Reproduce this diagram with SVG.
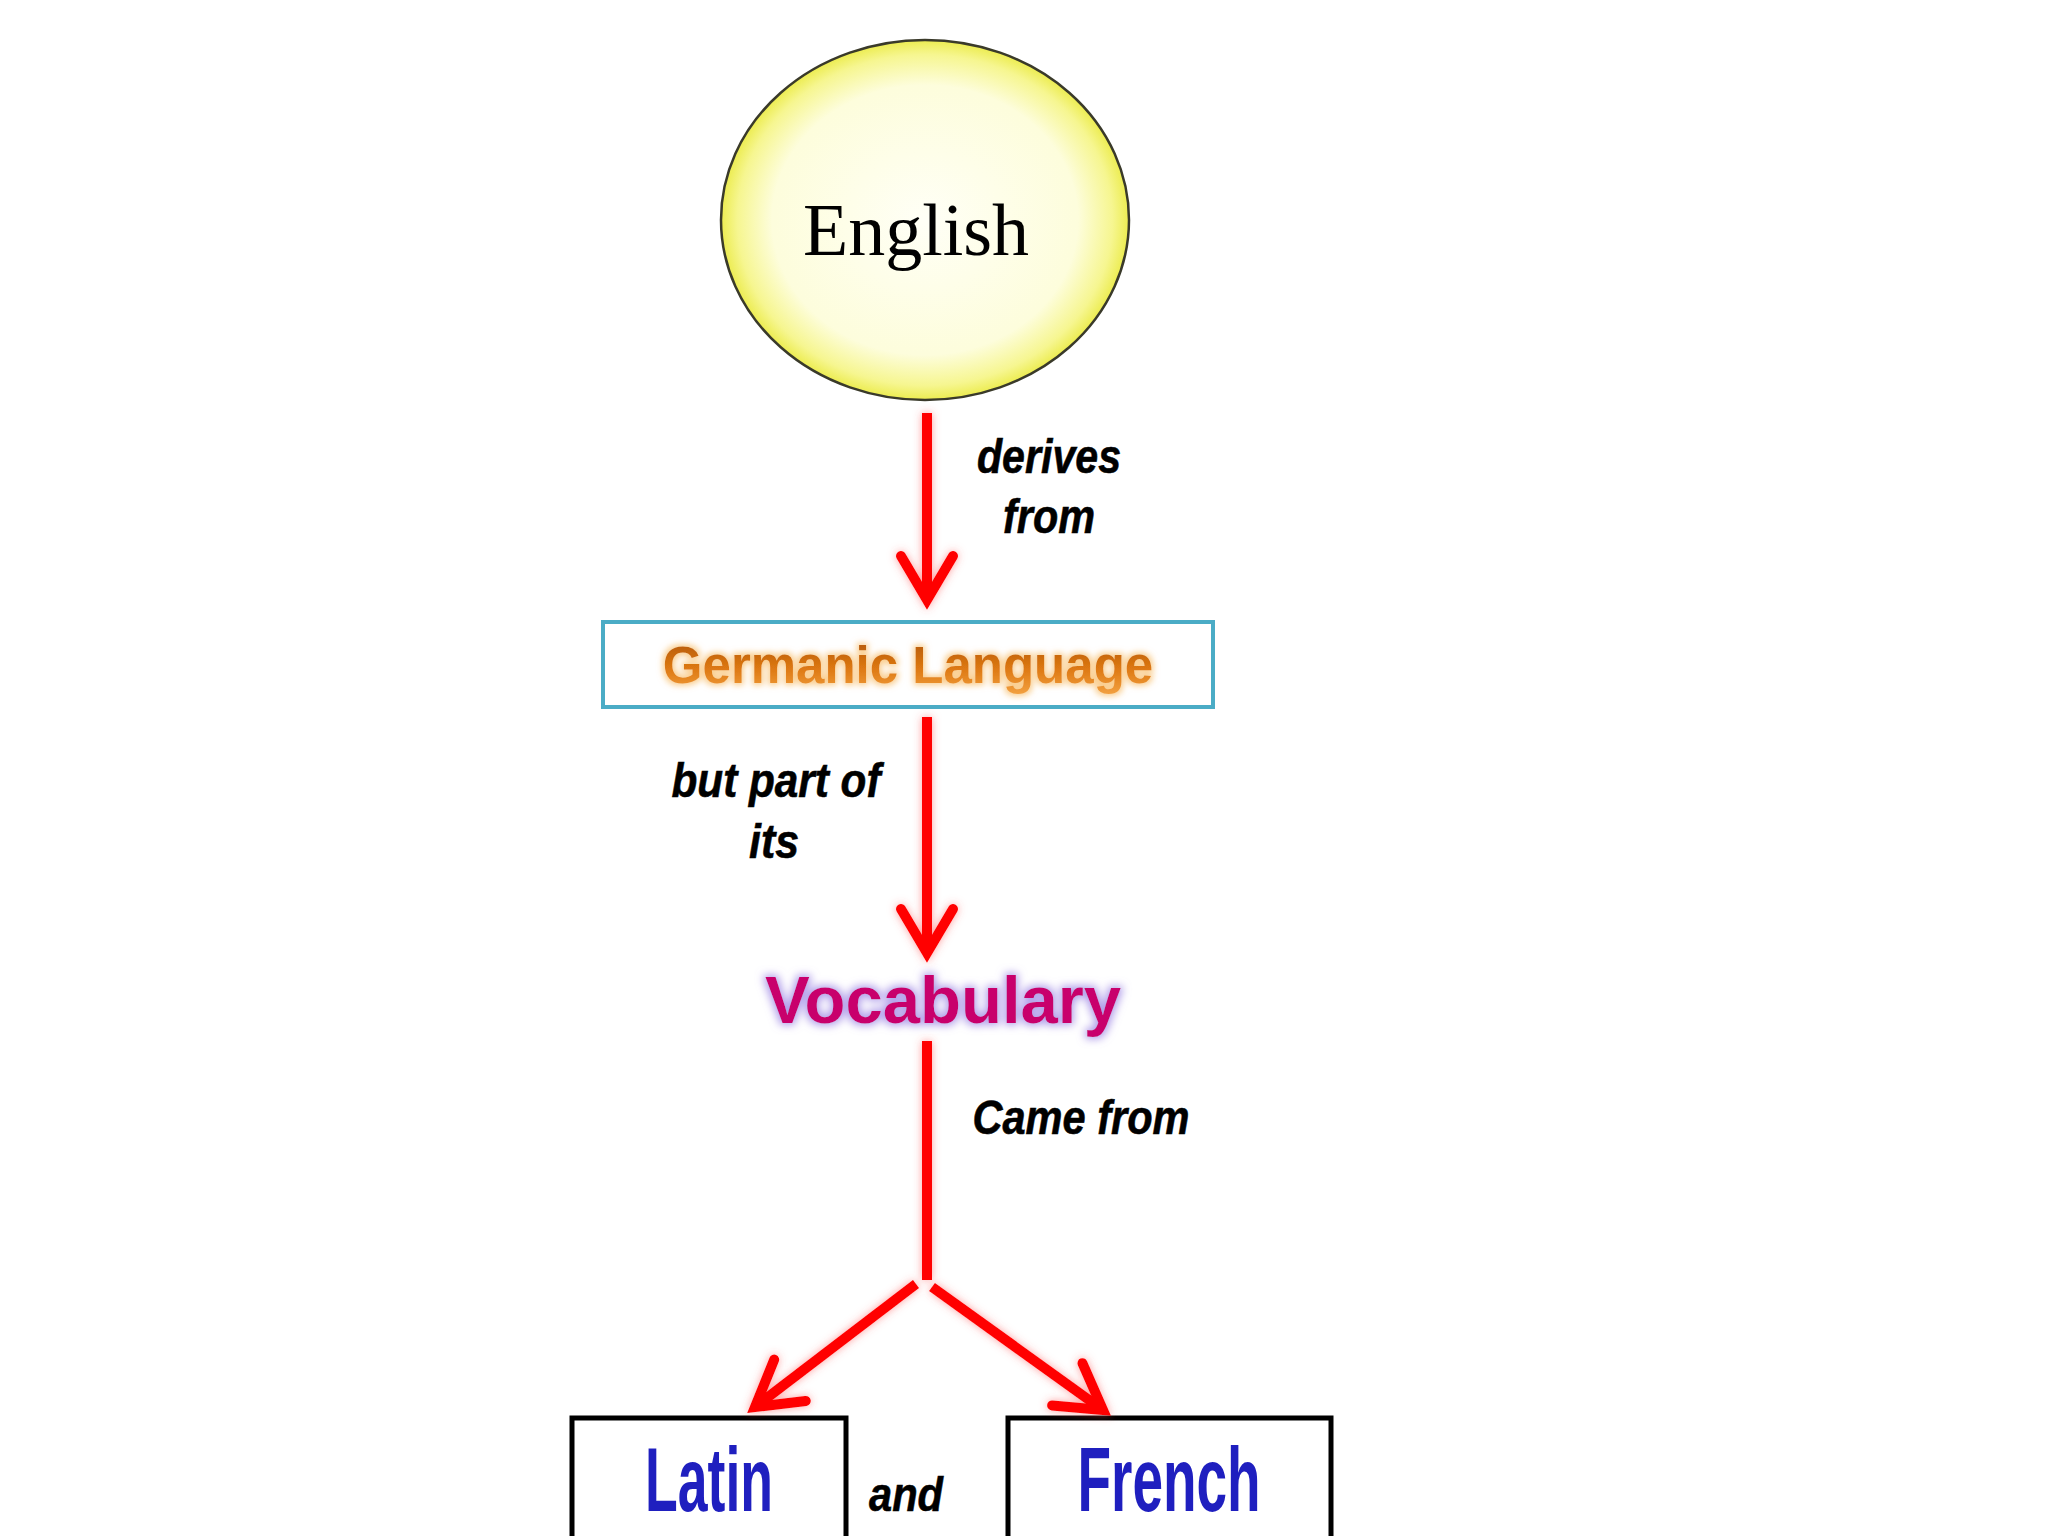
<svg xmlns="http://www.w3.org/2000/svg" width="2048" height="1536" viewBox="0 0 2048 1536">
<defs>
  <radialGradient id="gEll" cx="50%" cy="50%" r="50%">
    <stop offset="0" stop-color="#FFFFF6"/>
    <stop offset="0.75" stop-color="#FDFDDC"/>
    <stop offset="0.92" stop-color="#F6F690"/>
    <stop offset="1" stop-color="#ECEC50"/>
  </radialGradient>
  <linearGradient id="gOrange" x1="0" y1="0" x2="0" y2="1">
    <stop offset="0" stop-color="#B0560A"/>
    <stop offset="0.55" stop-color="#DD7812"/>
    <stop offset="1" stop-color="#F2A040"/>
  </linearGradient>
  <filter id="redGlow" x="-50%" y="-50%" width="200%" height="200%">
    <feGaussianBlur in="SourceAlpha" stdDeviation="4" result="b"/>
    <feFlood flood-color="#FF5050" flood-opacity="0.55"/>
    <feComposite in2="b" operator="in" result="g"/>
    <feMerge><feMergeNode in="g"/><feMergeNode in="SourceGraphic"/></feMerge>
  </filter>
  <filter id="orangeGlow" x="-20%" y="-50%" width="140%" height="200%">
    <feMorphology in="SourceAlpha" operator="dilate" radius="2" result="d"/>
    <feGaussianBlur in="d" stdDeviation="3" result="b"/>
    <feFlood flood-color="#F8C070" flood-opacity="0.8"/>
    <feComposite in2="b" operator="in" result="g"/>
    <feMerge><feMergeNode in="g"/><feMergeNode in="SourceGraphic"/></feMerge>
  </filter>
  <filter id="purpleGlow" x="-20%" y="-50%" width="140%" height="200%">
    <feMorphology in="SourceAlpha" operator="dilate" radius="2" result="d"/>
    <feGaussianBlur in="d" stdDeviation="4" result="b"/>
    <feFlood flood-color="#9C84E4" flood-opacity="0.8"/>
    <feComposite in2="b" operator="in" result="g"/>
    <feMerge><feMergeNode in="g"/><feMergeNode in="SourceGraphic"/></feMerge>
  </filter>
  <marker id="chev" viewBox="-60 -40 70 80" refX="0" refY="0" markerWidth="70" markerHeight="80" markerUnits="userSpaceOnUse" orient="auto" overflow="visible">
    <path d="M -44,-26 L 0,0 L -44,26" fill="none" stroke="#FF0000" stroke-width="10" stroke-linecap="round" stroke-linejoin="miter"/>
  </marker>
  <style>
    .conn { stroke:#FF0000; stroke-width:10; fill:none; }
    .lbl { font-family:"Liberation Sans", Arial, sans-serif; font-weight:bold; font-style:italic; font-size:48px; fill:#000; text-anchor:middle; stroke:#000; stroke-width:0.6; }
    .box { fill:#FFFFFF; stroke:#000; stroke-width:5; }
    .lang { font-family:"Liberation Sans", Arial, sans-serif; font-weight:bold; font-size:90px; fill:#1F1FBF; text-anchor:middle; }
  </style>
</defs>
<rect width="2048" height="1536" fill="#FFFFFF"/>

<g id="node-english">
  <ellipse cx="925" cy="220" rx="204" ry="180" fill="url(#gEll)" stroke="#3A3A2A" stroke-width="2.5"/>
  <text x="916" y="255" font-family="Liberation Serif, 'DejaVu Serif', serif" font-size="74" fill="#000" text-anchor="middle">English</text>
</g>

<g id="node-germanic">
  <rect x="603" y="622" width="610" height="85" fill="#FFFFFF" stroke="#4BACC6" stroke-width="4"/>
  <text x="908" y="683" font-family="Liberation Sans, Arial, sans-serif" font-weight="bold" font-size="51" fill="url(#gOrange)" text-anchor="middle" filter="url(#orangeGlow)">Germanic Language</text>
</g>

<g id="node-vocabulary">
  <text x="943" y="1023" font-family="Liberation Sans, Arial, sans-serif" font-weight="bold" font-size="67" fill="#C8006C" text-anchor="middle" filter="url(#purpleGlow)">Vocabulary</text>
</g>

<g id="node-latin">
  <rect x="572" y="1418" width="274" height="130" class="box"/>
  <text x="709" y="1511" class="lang" textLength="128" lengthAdjust="spacingAndGlyphs">Latin</text>
</g>

<g id="node-french">
  <rect x="1008" y="1418" width="323" height="130" class="box"/>
  <text x="1169" y="1511" class="lang" textLength="183" lengthAdjust="spacingAndGlyphs">French</text>
</g>

<g id="connectors" filter="url(#redGlow)">
  <line class="conn" x1="927" y1="413" x2="927" y2="600" marker-end="url(#chev)"/>
  <line class="conn" x1="927" y1="717" x2="927" y2="953" marker-end="url(#chev)"/>
  <line class="conn" x1="927" y1="1041" x2="927" y2="1280"/>
  <line class="conn" x1="916" y1="1284" x2="755" y2="1407" marker-end="url(#chev)"/>
  <line class="conn" x1="932" y1="1287" x2="1103" y2="1410" marker-end="url(#chev)"/>
</g>

<g id="labels">
  <text class="lbl" x="1049" y="473" textLength="144" lengthAdjust="spacingAndGlyphs">derives</text>
  <text class="lbl" x="1049" y="533" textLength="92" lengthAdjust="spacingAndGlyphs">from</text>
  <text class="lbl" x="776" y="797" textLength="209" lengthAdjust="spacingAndGlyphs">but part of</text>
  <text class="lbl" x="774" y="858" textLength="50" lengthAdjust="spacingAndGlyphs">its</text>
  <text class="lbl" x="1081" y="1134" textLength="217" lengthAdjust="spacingAndGlyphs">Came from</text>
  <text class="lbl" x="906" y="1511" textLength="74" lengthAdjust="spacingAndGlyphs">and</text>
</g>
</svg>
